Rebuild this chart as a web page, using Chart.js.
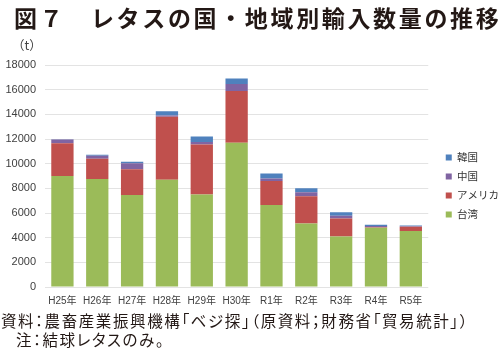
<!DOCTYPE html>
<html><head><meta charset="utf-8">
<script src="https://cdn.jsdelivr.net/npm/chart.js@4/dist/chart.umd.min.js"></script>
<style>
html,body{margin:0;padding:0;background:#fff;}
#wrap{position:relative;width:500px;height:357px;overflow:hidden;font-family:"Noto Sans CJK JP",sans-serif;color:#231815;}
#title{position:absolute;left:14px;top:0px;font-size:23px;font-weight:bold;letter-spacing:2.65px;white-space:nowrap;line-height:34px;}
#unit{position:absolute;left:12px;top:35px;font-size:12.5px;color:#444;}
.note{position:absolute;font-size:15.5px;white-space:nowrap;line-height:18px;font-feature-settings:"palt";letter-spacing:1.6px;}
#c{position:absolute;left:0;top:0;}
</style></head>
<body><div id="wrap">
<canvas id="c" width="500" height="357"></canvas>
<div id="title">図７　レタスの国・地域別輸入数量の推移</div>
<div id="unit">（t）</div>
<div class="note" style="left:1px;top:311px;">資料：農畜産業振興機構「ベジ探」（原資料；財務省「貿易統計」）</div>
<div class="note" style="left:16px;top:330px;">注：結球レタスのみ。</div>
</div>
<script>
const categories = ["H25年","H26年","H27年","H28年","H29年","H30年","R1年","R2年","R3年","R4年","R5年"];
const taiwan = [9000, 8750, 7450, 8700, 7500, 11700, 6650, 5150, 4100, 4800, 4550];
const usa    = [2650, 1650, 2100, 5100, 4050, 4200, 1950, 2200, 1450, 50, 330];
const china  = [300, 250, 480, 100, 200, 550, 200, 330, 220, 100, 50];
const korea  = [30, 80, 120, 350, 450, 450, 400, 330, 300, 100, 60];
const yTicks = [0,2000,4000,6000,8000,10000,12000,14000,16000,18000];

const mk = (label, data, color) => ({label, data, backgroundColor: color, borderWidth: 0, categoryPercentage: 0.64, barPercentage: 1});
const legendShift = {
  id: 'legendShift',
  afterLayout(chart) {
    const lg = chart.legend;
    if (lg) { lg.left += 9; lg.right += 9; lg.top -= 4; lg.bottom -= 4; }
  }
};
new Chart(document.getElementById('c'), {
  type: 'bar',
  data: {
    labels: categories,
    datasets: [
      mk('台湾', taiwan, '#9BBB59'),
      mk('アメリカ', usa, '#C0504D'),
      mk('中国', china, '#8064A2'),
      mk('韓国', korea, '#4F81BD')
    ]
  },
  plugins: [legendShift],
  options: {
    responsive: false,
    animation: false,
    layout: {padding: {top: 65, bottom: 42, left: 0, right: 0}},
    plugins: {
      legend: {
        position: 'right',
        reverse: true,
        maxWidth: 77,
        labels: {boxWidth: 6, boxHeight: 6, padding: 8.5, color: '#333', font: {family: '"Noto Sans CJK JP", sans-serif', size: 10.5}}
      },
      tooltip: {enabled: false}
    },
    scales: {
      x: {
        stacked: true,
        grid: {display: false, drawTicks: false},
        border: {display: false},
        ticks: {color: '#404040', font: {family: '"Liberation Sans", "Noto Sans CJK JP", sans-serif', size: 10}, maxRotation: 0, autoSkip: false, padding: 8}
      },
      y: {
        stacked: true,
        min: 0, max: 18000,
        afterBuildTicks: (ax) => { ax.ticks = yTicks.map(v => ({value: v})); },
        afterFit: (ax) => { ax.width = 45; },
        grid: {color: '#E3E3E3', drawTicks: false, lineWidth: 1},
        border: {display: false},
        ticks: {color: '#404040', font: {family: '"Liberation Sans", sans-serif', size: 11}, padding: 9, callback: (v) => String(v)}
      }
    }
  }
});
</script>
</body></html>
